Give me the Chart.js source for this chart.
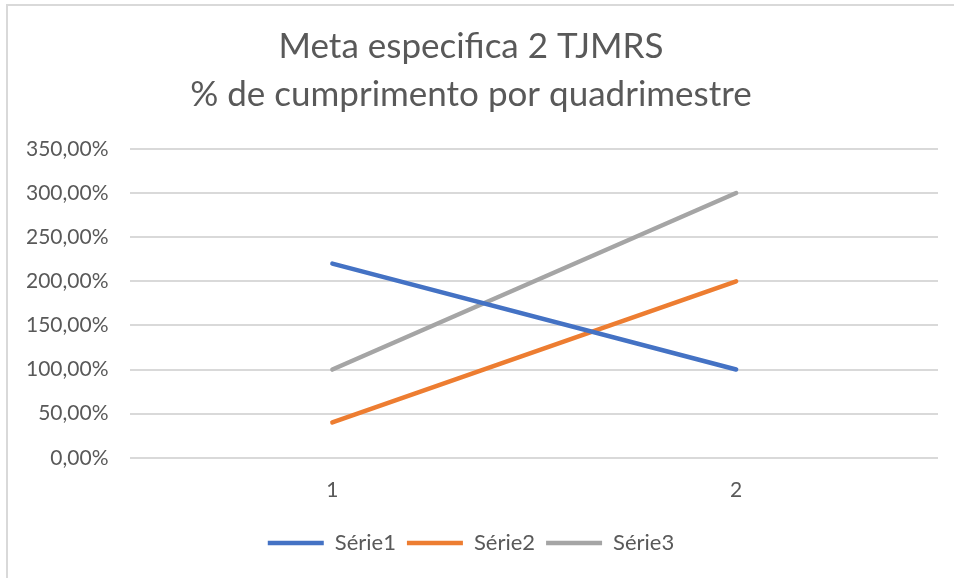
<!DOCTYPE html>
<html>
<head>
<meta charset="utf-8">
<script src="https://cdn.jsdelivr.net/npm/chart.js@4/dist/chart.umd.min.js"></script>
<style>
  html, body { margin: 0; padding: 0; background: #fff; }
  #wrap { position: relative; width: 954px; height: 578px; }
  #frame { position: absolute; left: 6px; top: 4px; right: 0; bottom: 0;
           border-left: 2px solid #d9d9d9; border-top: 2px solid #d9d9d9; pointer-events: none; }
</style>
</head>
<body>
<div id="wrap">
  <canvas id="chart" width="954" height="578"></canvas>
  <div id="frame"></div>
</div>
<script>
const categories = ['1', '2'];
const serie1 = [220, 100];
const serie2 = [40, 200];
const serie3 = [100, 300];
const titleLines = ['Meta especifica 2 TJMRS', '% de cumprimento por quadrimestre'];

const FONT = 'Lato, "Open Sans", sans-serif';
const TEXT = '#595959';

const line = (label, data, color) => ({
    label: label,
    data: data,
    borderColor: color,
    backgroundColor: color,
    borderWidth: 4.5,
    borderCapStyle: 'round',
    pointRadius: 0,
    pointHoverRadius: 0,
    pointStyle: 'line',
    tension: 0,
});

const ctx = document.getElementById('chart').getContext('2d');
new Chart(ctx, {
    type: 'line',
    data: {
        labels: categories,
        datasets: [
            line('Série1', serie1, '#4472c4'),
            line('Série2', serie2, '#ed7d31'),
            line('Série3', serie3, '#a5a5a5'),
        ],
    },
    options: {
        responsive: false,
        animation: false,
        layout: { padding: { top: 23, right: 16, left: 4, bottom: 14 } },
        plugins: {
            title: {
                display: true,
                text: titleLines,
                color: TEXT,
                font: { family: FONT, size: 35, weight: 'normal', lineHeight: 1.37 },
                padding: { top: 0, bottom: 30 },
            },
            legend: {
                position: 'bottom',
                labels: {
                    color: TEXT,
                    font: { family: FONT, size: 22 },
                    usePointStyle: true,
                    pointStyleWidth: 56,
                    boxHeight: 4,
                    padding: 11,
                },
            },
            tooltip: { enabled: false },
        },
        scales: {
            x: {
                offset: true,
                grid: { display: false, drawTicks: false },
                border: { display: false },
                ticks: { color: TEXT, font: { family: FONT, size: 21 }, padding: 20 },
                // pull the legend a bit closer to the axis labels
                afterFit: (scale) => { scale.height -= 2; },
            },
            y: {
                min: 0,
                max: 350,
                grid: { color: '#d9d9d9', lineWidth: 2, drawTicks: false },
                border: { display: false },
                ticks: {
                    stepSize: 50,
                    color: TEXT,
                    font: { family: FONT, size: 21 },
                    padding: 22,
                    callback: (v) => v.toFixed(2).replace('.', ',') + '%',
                },
            },
        },
    },
});
</script>
</body>
</html>
